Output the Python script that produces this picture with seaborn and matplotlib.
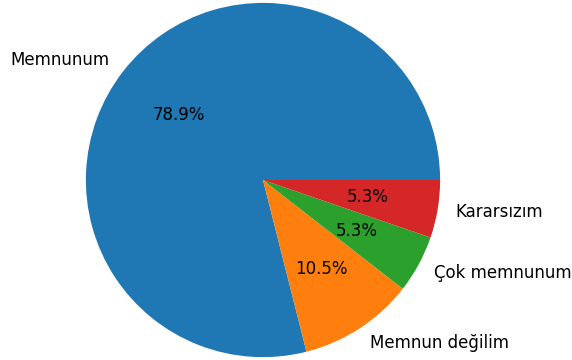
import matplotlib
matplotlib.use('Agg')
import matplotlib.pyplot as plt
import seaborn as sns

# Veriler
kategoriler = ['Memnunum', 'Memnun değilim', 'Çok memnunum', 'Kararsızım']
sayilar = [15, 2, 1, 1]

renkler = sns.color_palette('tab10', len(kategoriler))

fig = plt.figure(figsize=(5.72, 3.6), dpi=100)
# pie merkezi ~ (263, 180) px, yarıçap ~177 px
ax = fig.add_axes([(263 - 178) / 572, (180 - 178) / 360, 356 / 572, 356 / 360])

ax.pie(sayilar, labels=kategoriler, colors=renkler, autopct='%1.1f%%',
       textprops={'fontsize': 12})
ax.set_xlim(-1.005, 1.005)
ax.set_ylim(-1.005, 1.005)
ax.set_aspect('equal')

plt.savefig('out.png', dpi=100)
plt.close()
